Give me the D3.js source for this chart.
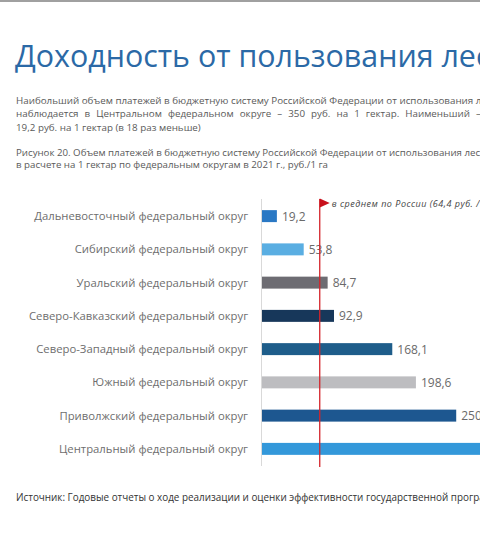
<!DOCTYPE html>
<html><head><meta charset="utf-8">
<script src="https://cdn.jsdelivr.net/npm/d3@7"></script>
<style>
html,body{margin:0;padding:0;background:#fff;overflow:hidden;}
svg{display:block;font-family:"Open Sans",sans-serif;}
</style></head>
<body>
<script>
const categories = [
  "Дальневосточный федеральный округ",
  "Сибирский федеральный округ",
  "Уральский федеральный округ",
  "Северо-Кавказский федеральный округ",
  "Северо-Западный федеральный округ",
  "Южный федеральный округ",
  "Приволжский федеральный округ",
  "Центральный федеральный округ"
];
const values = [19.2, 53.8, 84.7, 92.9, 168.1, 198.6, 250.6, 350.0];
const valueLabels = ["19,2", "53,8", "84,7", "92,9", "168,1", "198,6", "250,6", "350,0"];
const barColors = ["#2a78c4", "#5aaee2", "#6d6c72", "#17375a", "#1e5d8a", "#bdbdc0", "#1d5790", "#3398da"];
const avgLabel = "в среднем по России (64,4 руб. / 1 га)";
const avgLinePos = 74.5; // position of the red marker as drawn in the picture (scale units)

const titleText = "Доходность от пользования лесами";
const paraLines = [
  "Наибольший объем платежей в бюджетную систему Российской Федерации от использования лесов",
  "наблюдается в Центральном федеральном округе – 350 руб. на 1 гектар. Наименьший – в Дальневосточном",
  "19,2 руб. на 1 гектар (в 18 раз меньше)"
];
const captionLines = [
  "Рисунок 20. Объем платежей в бюджетную систему Российской Федерации от использования лесов",
  "в расчете на 1 гектар по федеральным округам в 2021 г., руб./1 га"
];
const sourceText = "Источник: Годовые отчеты о ходе реализации и оценки эффективности государственной программы";

const W = 480, H = 536;
const svg = d3.select("body").append("svg").attr("width", W).attr("height", H);

function measure(t, attrs){
  const tmp = svg.append("text").attr("x",0).attr("y",-100);
  Object.entries(attrs).forEach(([k,v])=>tmp.attr(k,v));
  tmp.text(t);
  const w = tmp.node().getComputedTextLength();
  tmp.remove();
  return w;
}

// top border line
svg.append("rect").attr("x",0).attr("y",0).attr("width",W).attr("height",2).attr("fill","#a0a0a0");

svg.append("text").attr("x",15).attr("y",67)
  .attr("font-size",30.4).attr("fill","#2b69a6").text(titleText);

const fsBody = 9.8;
const pg = svg.append("g").attr("font-size",fsBody).attr("fill","#5a5a5a");
paraLines.forEach((t,i)=>{
  const el = pg.append("text").attr("x",16).attr("y",103.5 + i*13.5).text(t);
  if(i===1){
    const words = t.split(" ");
    const idx = words.indexOf("Наименьший");
    const partial = words.slice(0, idx+1).join(" ");
    const natural = measure(partial, {"font-size":fsBody});
    el.attr("word-spacing", (454 - natural) / idx);
  }
});
const cg = svg.append("g").attr("font-size",9.7).attr("fill","#5a5a5a");
captionLines.forEach((t,i)=>{
  cg.append("text").attr("x",16).attr("y",156 + i*12).text(t);
});

// chart
const x = d3.scaleLinear().domain([0, 350]).range([262, 262 + 350*0.775]);
const y = d3.scaleBand().domain(categories).range([199.5, 465.5]).paddingInner(0.64).paddingOuter(0.32);

svg.append("line").attr("x1",261.5).attr("x2",261.5).attr("y1",199).attr("y2",466)
  .attr("stroke","#d9d9d9").attr("stroke-width",1);

svg.append("g").selectAll("rect").data(values).join("rect")
  .attr("x", x(0))
  .attr("y", (d,i)=>y(categories[i]))
  .attr("width", d=>x(d)-x(0))
  .attr("height", y.bandwidth())
  .attr("fill", (d,i)=>barColors[i]);

svg.append("g").selectAll("text").data(categories).join("text")
  .attr("x", 248).attr("y", d=>y(d)+y.bandwidth()/2+4)
  .attr("text-anchor","end").attr("font-size",11.3).attr("fill","#6e6e6e")
  .text(d=>d);

svg.append("g").selectAll("text").data(values).join("text")
  .attr("x", d=>x(d)+5).attr("y", (d,i)=>y(categories[i])+y.bandwidth()/2+4.5)
  .attr("font-size",12).attr("fill","#6a6a6a")
  .text((d,i)=>valueLabels[i]);

// average marker
const ax = x(avgLinePos);
svg.append("line").attr("x1",ax).attr("x2",ax).attr("y1",199).attr("y2",467)
  .attr("stroke","#d4242a").attr("stroke-width",1.3);
svg.append("path").attr("d",`M${ax},198.5 L${ax+10},203 L${ax},207.5 Z`).attr("fill","#c8101c");
svg.append("text").attr("x",ax+12).attr("y",206.5).attr("font-size",9).attr("font-style","italic")
  .attr("textLength",172).attr("lengthAdjust","spacing")
  .attr("fill","#444").text(avgLabel);

svg.append("text").attr("x",16).attr("y",501).attr("font-size",9.9).attr("fill","#333")
  .text(sourceText);
</script>
</body></html>
